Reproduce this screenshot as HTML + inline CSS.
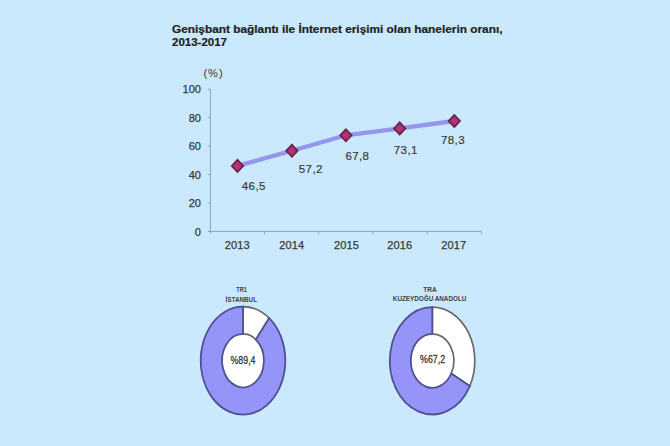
<!DOCTYPE html>
<html><head><meta charset="utf-8"><style>
html,body{margin:0;padding:0;background:#cbe9fc;width:670px;height:446px;overflow:hidden}
svg{display:block;font-family:"Liberation Sans",sans-serif}
</style></head><body>
<svg width="670" height="446" viewBox="0 0 670 446">
<rect width="670" height="446" fill="#cbe9fc"/>
<defs><radialGradient id="dg" cx="50%" cy="50%" r="55%"><stop offset="0" stop-color="#c2387a"/><stop offset="0.5" stop-color="#a62e6a"/><stop offset="1" stop-color="#702050"/></radialGradient></defs>
<text x="172" y="32.9" font-weight="bold" font-size="10.2" stroke="#1e1e1e" stroke-width="0.2" textLength="330.5" lengthAdjust="spacingAndGlyphs" fill="#1e1e1e">Genişbant bağlantı ile İnternet erişimi olan hanelerin oranı,</text>
<text x="172" y="46" font-weight="bold" font-size="10.4" stroke="#1e1e1e" stroke-width="0.2" textLength="55" lengthAdjust="spacingAndGlyphs" fill="#1e1e1e">2013-2017</text>
<text x="213.5" y="76.8" font-size="11" text-anchor="middle" letter-spacing="1" fill="#383838">(%)</text>
<path d="M210.4 89.2 V233.4 M207.9 231.4 H481.4" stroke="#98a2ae" stroke-width="1" fill="none"/>
<path d="M207.9 231.4 H210.4" stroke="#98a2ae" stroke-width="1"/>
<text x="200.9" y="235.5" font-size="11" text-anchor="end" fill="#383838" stroke="#383838" stroke-width="0.25">0</text>
<path d="M207.9 203.0 H210.4" stroke="#98a2ae" stroke-width="1"/>
<text x="200.9" y="207.1" font-size="11" text-anchor="end" fill="#383838" stroke="#383838" stroke-width="0.25">20</text>
<path d="M207.9 174.5 H210.4" stroke="#98a2ae" stroke-width="1"/>
<text x="200.9" y="178.6" font-size="11" text-anchor="end" fill="#383838" stroke="#383838" stroke-width="0.25">40</text>
<path d="M207.9 146.1 H210.4" stroke="#98a2ae" stroke-width="1"/>
<text x="200.9" y="150.2" font-size="11" text-anchor="end" fill="#383838" stroke="#383838" stroke-width="0.25">60</text>
<path d="M207.9 117.6 H210.4" stroke="#98a2ae" stroke-width="1"/>
<text x="200.9" y="121.7" font-size="11" text-anchor="end" fill="#383838" stroke="#383838" stroke-width="0.25">80</text>
<path d="M207.9 89.2 H210.4" stroke="#98a2ae" stroke-width="1"/>
<text x="200.9" y="93.3" font-size="11" text-anchor="end" fill="#383838" stroke="#383838" stroke-width="0.25">100</text>
<path d="M264.6 231.4 V234.4" stroke="#98a2ae" stroke-width="1"/>
<path d="M318.8 231.4 V234.4" stroke="#98a2ae" stroke-width="1"/>
<path d="M373.0 231.4 V234.4" stroke="#98a2ae" stroke-width="1"/>
<path d="M427.2 231.4 V234.4" stroke="#98a2ae" stroke-width="1"/>
<path d="M481.4 231.4 V234.4" stroke="#98a2ae" stroke-width="1"/>
<text x="237.2" y="249.1" font-size="11" letter-spacing="0.15" text-anchor="middle" fill="#383838" stroke="#383838" stroke-width="0.25">2013</text>
<text x="291.8" y="249.1" font-size="11" letter-spacing="0.15" text-anchor="middle" fill="#383838" stroke="#383838" stroke-width="0.25">2014</text>
<text x="346.5" y="249.1" font-size="11" letter-spacing="0.15" text-anchor="middle" fill="#383838" stroke="#383838" stroke-width="0.25">2015</text>
<text x="399.8" y="249.1" font-size="11" letter-spacing="0.15" text-anchor="middle" fill="#383838" stroke="#383838" stroke-width="0.25">2016</text>
<text x="453.7" y="249.1" font-size="11" letter-spacing="0.15" text-anchor="middle" fill="#383838" stroke="#383838" stroke-width="0.25">2017</text>
<polyline points="237.5,165.9 291.9,150.8 345.9,135.3 399.7,128.4 454.3,121.0" fill="none" stroke="#9595ef" stroke-width="4.3" stroke-linejoin="round"/>
<path d="M237.5 159.5 L243.5 165.9 L237.5 172.3 L231.5 165.9Z" fill="url(#dg)" stroke="#5c1c44" stroke-width="1.2"/>
<path d="M291.9 144.4 L297.9 150.8 L291.9 157.2 L285.9 150.8Z" fill="url(#dg)" stroke="#5c1c44" stroke-width="1.2"/>
<path d="M345.9 128.9 L351.9 135.3 L345.9 141.7 L339.9 135.3Z" fill="url(#dg)" stroke="#5c1c44" stroke-width="1.2"/>
<path d="M399.7 122.0 L405.7 128.4 L399.7 134.8 L393.7 128.4Z" fill="url(#dg)" stroke="#5c1c44" stroke-width="1.2"/>
<path d="M454.3 114.6 L460.3 121.0 L454.3 127.4 L448.3 121.0Z" fill="url(#dg)" stroke="#5c1c44" stroke-width="1.2"/>
<text x="253.8" y="190.0" font-size="11.5" letter-spacing="0.4" text-anchor="middle" fill="#383838" stroke="#383838" stroke-width="0.18">46,5</text>
<text x="310.8" y="173.3" font-size="11.5" letter-spacing="0.4" text-anchor="middle" fill="#383838" stroke="#383838" stroke-width="0.18">57,2</text>
<text x="357.4" y="160.0" font-size="11.5" letter-spacing="0.4" text-anchor="middle" fill="#383838" stroke="#383838" stroke-width="0.18">67,8</text>
<text x="405.8" y="154.0" font-size="11.5" letter-spacing="0.4" text-anchor="middle" fill="#383838" stroke="#383838" stroke-width="0.18">73,1</text>
<text x="453.0" y="144.4" font-size="11.5" letter-spacing="0.4" text-anchor="middle" fill="#383838" stroke="#383838" stroke-width="0.18">78,3</text>
<ellipse cx="243" cy="360.6" rx="20.9" ry="26.8" fill="#ffffff"/>
<path d="M243 306.6 A42.3 54 0 0 1 269.14 318.14 L255.91 339.53 A20.9 26.8 0 0 0 243 333.8 Z" fill="#ffffff" stroke="#686868" stroke-width="1.7"/>
<path d="M269.14 318.14 A42.3 54 0 1 1 243 306.6 L243 333.8 A20.9 26.8 0 1 0 255.91 339.53 Z" fill="#9595f9" stroke="#50508e" stroke-width="1.8"/>
<text x="243.0" y="363.70" font-size="11.6" text-anchor="middle" textLength="25" lengthAdjust="spacingAndGlyphs" fill="#383838" stroke="#383838" stroke-width="0.3">%89,4</text>
<text x="241.6" y="292.0" font-size="6.8" font-weight="bold" text-anchor="middle" textLength="10.5" lengthAdjust="spacingAndGlyphs" fill="#404040">TR1</text>
<text x="241.3" y="302" font-size="6.8" font-weight="bold" text-anchor="middle" textLength="31.5" lengthAdjust="spacingAndGlyphs" fill="#404040">İSTANBUL</text>
<ellipse cx="432.3" cy="360.8" rx="21.5" ry="27" fill="#ffffff"/>
<path d="M432.3 307.2 A42.5 53.6 0 0 1 469.80 386.03 L451.27 373.51 A21.5 27 0 0 0 432.3 333.8 Z" fill="#ffffff" stroke="#686868" stroke-width="1.7"/>
<path d="M469.80 386.03 A42.5 53.6 0 1 1 432.3 307.2 L432.3 333.8 A21.5 27 0 1 0 451.27 373.51 Z" fill="#9595f9" stroke="#50508e" stroke-width="1.8"/>
<text x="432.6" y="363.45" font-size="11.6" text-anchor="middle" textLength="25" lengthAdjust="spacingAndGlyphs" fill="#383838" stroke="#383838" stroke-width="0.3">%67,2</text>
<text x="430" y="291.8" font-size="6.8" font-weight="bold" text-anchor="middle" textLength="13.4" lengthAdjust="spacingAndGlyphs" fill="#404040">TRA</text>
<text x="429.6" y="300.8" font-size="6.8" font-weight="bold" text-anchor="middle" textLength="73.5" lengthAdjust="spacingAndGlyphs" fill="#404040">KUZEYDOĞU ANADOLU</text>
</svg>
</body></html>
